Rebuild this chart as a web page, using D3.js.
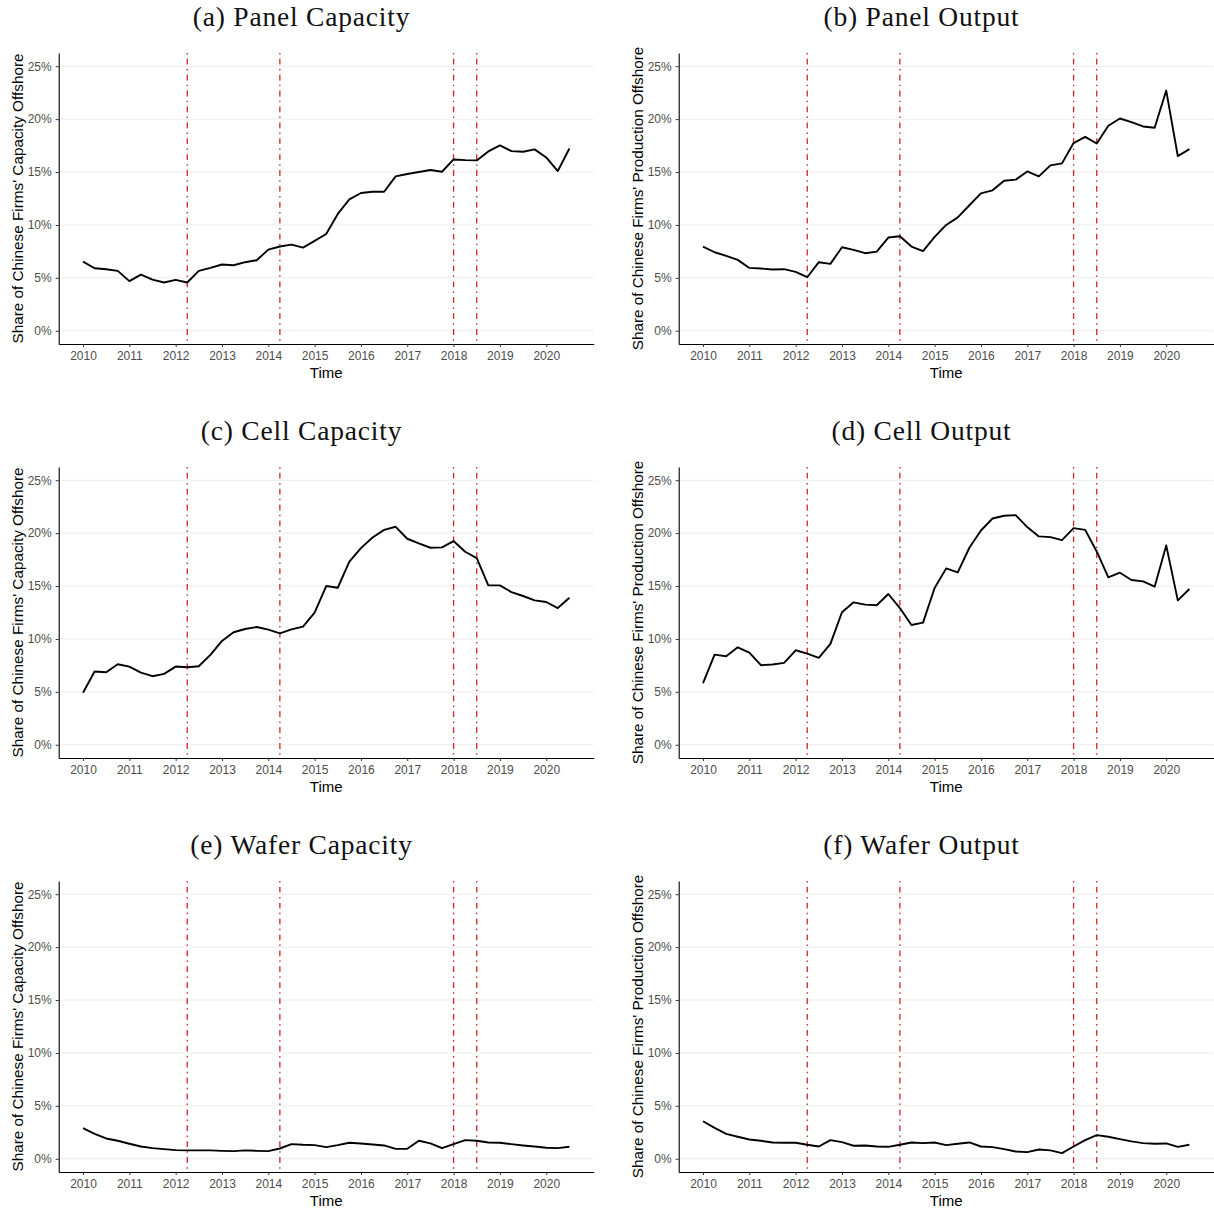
<!DOCTYPE html>
<html>
<head>
<meta charset="utf-8">
<script src="https://cdn.jsdelivr.net/npm/d3@7"></script>
<style>
  body { margin: 0; background: #fff; }
  svg { display: block; }
</style>
</head>
<body>
<div id="chart"></div>
<script>
// quarterly observations, 2010Q1 .. 2020Q3
const quarters = [
  2010.00, 2010.25, 2010.50, 2010.75, 2011.00, 2011.25, 2011.50, 2011.75,
  2012.00, 2012.25, 2012.50, 2012.75, 2013.00, 2013.25, 2013.50, 2013.75,
  2014.00, 2014.25, 2014.50, 2014.75, 2015.00, 2015.25, 2015.50, 2015.75,
  2016.00, 2016.25, 2016.50, 2016.75, 2017.00, 2017.25, 2017.50, 2017.75,
  2018.00, 2018.25, 2018.50, 2018.75, 2019.00, 2019.25, 2019.50, 2019.75,
  2020.00, 2020.25, 2020.50
];

// share offshore, in %
const panelCapacity = [
  6.54, 5.91, 5.82, 5.66, 4.69, 5.31, 4.84, 4.56, 4.81, 4.56, 5.66, 5.94,
  6.26, 6.19, 6.48, 6.67, 7.67, 7.96, 8.14, 7.86, 8.49, 9.15, 11.04, 12.42,
  13.02, 13.14, 13.14, 14.59, 14.81, 15.00, 15.19, 15.03, 16.19, 16.13, 16.10, 16.95,
  17.52, 16.98, 16.92, 17.14, 16.38, 15.09, 17.23
];
const panelOutput = [
  7.96, 7.42, 7.08, 6.70, 5.94, 5.88, 5.79, 5.82, 5.57, 5.06, 6.48, 6.32,
  7.89, 7.64, 7.33, 7.48, 8.81, 8.93, 7.96, 7.52, 8.87, 10.00, 10.72, 11.86,
  12.99, 13.27, 14.18, 14.28, 15.06, 14.59, 15.63, 15.82, 17.74, 18.33, 17.70, 19.37,
  20.06, 19.72, 19.31, 19.18, 22.70, 16.51, 17.17
];
const cellCapacity = [
  4.91, 6.92, 6.86, 7.61, 7.39, 6.82, 6.48, 6.70, 7.39, 7.33, 7.42, 8.49,
  9.81, 10.63, 10.94, 11.13, 10.88, 10.53, 10.91, 11.16, 12.48, 15.00, 14.84, 17.30,
  18.58, 19.59, 20.31, 20.60, 19.47, 19.03, 18.62, 18.65, 19.25, 18.24, 17.64, 15.06,
  15.06, 14.43, 14.06, 13.65, 13.49, 12.92, 13.90
];
const cellOutput = [
  5.82, 8.52, 8.36, 9.21, 8.71, 7.52, 7.58, 7.74, 8.93, 8.62, 8.21, 9.53,
  12.52, 13.46, 13.24, 13.18, 14.25, 12.92, 11.32, 11.54, 14.81, 16.67, 16.29, 18.62,
  20.25, 21.38, 21.64, 21.70, 20.57, 19.69, 19.62, 19.34, 20.47, 20.31, 18.27, 15.82,
  16.26, 15.57, 15.44, 14.94, 18.84, 13.65, 14.72
];
const waferCapacity = [
  2.89, 2.36, 1.92, 1.70, 1.42, 1.16, 1.01, 0.91, 0.82, 0.79, 0.79, 0.79,
  0.75, 0.72, 0.79, 0.75, 0.72, 0.97, 1.38, 1.32, 1.29, 1.10, 1.29, 1.51,
  1.45, 1.35, 1.26, 0.94, 0.94, 1.70, 1.45, 1.01, 1.38, 1.76, 1.70, 1.54,
  1.51, 1.38, 1.26, 1.16, 1.04, 1.01, 1.13
];
const waferOutput = [
  3.55, 2.92, 2.36, 2.08, 1.82, 1.70, 1.54, 1.51, 1.51, 1.32, 1.16, 1.76,
  1.57, 1.23, 1.26, 1.16, 1.13, 1.32, 1.54, 1.48, 1.54, 1.29, 1.42, 1.54,
  1.16, 1.10, 0.91, 0.69, 0.63, 0.88, 0.79, 0.53, 1.16, 1.76, 2.23, 2.08,
  1.86, 1.64, 1.48, 1.42, 1.45, 1.13, 1.32
];

const titles = ["(a) Panel Capacity", "(b) Panel Output", "(c) Cell Capacity",
                "(d) Cell Output", "(e) Wafer Capacity", "(f) Wafer Output"];
const yLabels = ["Share of Chinese Firms' Capacity Offshore", "Share of Chinese Firms' Production Offshore"];
const seriesList = [panelCapacity, panelOutput, cellCapacity, cellOutput, waferCapacity, waferOutput];

const yearTicks = [2010, 2011, 2012, 2013, 2014, 2015, 2016, 2017, 2018, 2019, 2020];
const yTicks = [0, 5, 10, 15, 20, 25];
const eventDates = [2012.25, 2014.25, 2018.0, 2018.5];

const width = 1214, height = 1209;
const sans = "'Liberation Sans', Arial, sans-serif";

const svg = d3.select("#chart").append("svg")
    .attr("width", width)
    .attr("height", height)
    .attr("viewBox", [0, 0, width, height]);

svg.append("rect").attr("width", width).attr("height", height).attr("fill", "white");

// plot box inside one cell
const pLeft = 58.7, pRight = 593.7, pTop = 53, pBottom = 344;

const x = d3.scaleLinear().domain([2009.475, 2021.025]).range([pLeft, pRight]);
const y = d3.scaleLinear().domain([-1.25, 26.25]).range([pBottom, pTop]);

const line = d3.line()
    .x((d, i) => x(quarters[i]))
    .y(d => y(d));

seriesList.forEach((values, i) => {
    const col = i % 2, row = Math.floor(i / 2);
    const g = svg.append("g")
        .attr("transform", `translate(${col * 620},${row * 414})`);

    // title
    g.append("text")
        .attr("x", 301.5)
        .attr("y", 26)
        .attr("text-anchor", "middle")
        .attr("font-family", "'Liberation Serif', 'Times New Roman', serif")
        .attr("font-size", 27.5)
        .attr("letter-spacing", 0.8)
        .attr("fill", "#111")
        .text(titles[i]);

    // horizontal grid
    g.append("g").selectAll("line")
        .data(yTicks)
        .join("line")
        .attr("x1", pLeft).attr("x2", pRight)
        .attr("y1", d => y(d)).attr("y2", d => y(d))
        .attr("stroke", "#ebebeb")
        .attr("stroke-width", 1);

    // event lines
    g.append("g").selectAll("line")
        .data(eventDates)
        .join("line")
        .attr("x1", d => x(d)).attr("x2", d => x(d))
        .attr("y1", pTop).attr("y2", pBottom)
        .attr("stroke", "#cd2626")
        .attr("stroke-width", 1.3)
        .attr("stroke-dasharray", "1.5,4.3,5.8,4.3");

    // series
    g.append("path")
        .datum(values)
        .attr("d", line)
        .attr("fill", "none")
        .attr("stroke", "black")
        .attr("stroke-width", 1.9)
        .attr("stroke-linejoin", "round");

    // axes
    const xAxis = g.append("g")
        .attr("transform", `translate(0,${pBottom})`)
        .call(d3.axisBottom(x).tickValues(yearTicks).tickFormat(d3.format("d"))
            .tickSize(3).tickSizeOuter(0).tickPadding(4.5));
    const yAxis = g.append("g")
        .attr("transform", `translate(${pLeft},0)`)
        .call(d3.axisLeft(y).tickValues(yTicks).tickFormat(d => d + "%")
            .tickSize(3).tickSizeOuter(0).tickPadding(4));

    [xAxis, yAxis].forEach(a => {
        a.select(".domain").attr("stroke", "black").attr("stroke-width", 1.1);
        a.selectAll(".tick line").attr("stroke", "#333");
        a.selectAll(".tick text")
            .attr("fill", "#4d4d4d")
            .attr("font-family", sans)
            .attr("font-size", 12);
    });

    // axis titles
    g.append("text")
        .attr("x", (pLeft + pRight) / 2)
        .attr("y", 377.5)
        .attr("text-anchor", "middle")
        .attr("font-family", sans)
        .attr("font-size", 15)
        .attr("fill", "black")
        .text("Time");

    g.append("text")
        .attr("transform", `translate(${pLeft - 35.5},${(pTop + pBottom) / 2}) rotate(-90)`)
        .attr("text-anchor", "middle")
        .attr("font-family", sans)
        .attr("font-size", 15.3)
        .attr("fill", "black")
        .text(yLabels[col]);
});
</script>
</body>
</html>
